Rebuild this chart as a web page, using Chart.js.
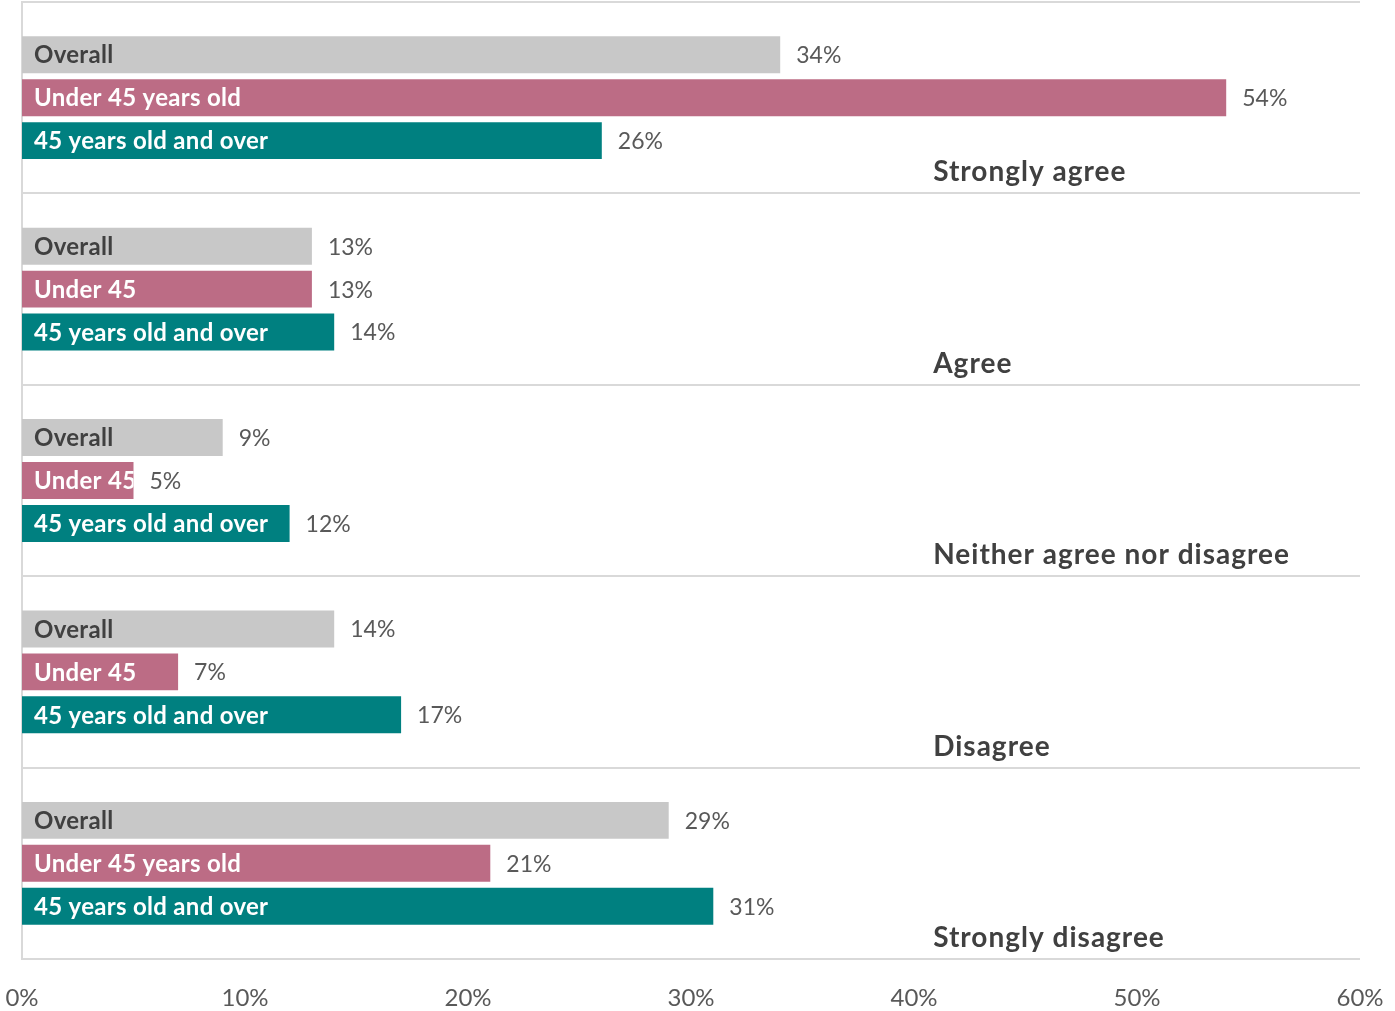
<!DOCTYPE html>
<html>
<head>
<meta charset="utf-8">
<script src="https://cdn.jsdelivr.net/npm/chart.js@4.4.1/dist/chart.umd.min.js"></script>
<style>
  html, body { margin: 0; padding: 0; background: #fff; }
  #wrap { width: 1395px; height: 1011px; }
</style>
</head>
<body>
<div id="wrap"><canvas id="agreeChart" width="1395" height="1011"></canvas></div>
<script>
// ===== DATA =====
const categories = ["Strongly agree", "Agree", "Neither agree nor disagree", "Disagree", "Strongly disagree"];
const overallValues = [34, 13, 9, 14, 29];
const under45Values = [54, 13, 5, 7, 21];
const over45Values = [26, 14, 12, 17, 31];
const under45Names = ["Under 45 years old", "Under 45", "Under 45", "Under 45", "Under 45 years old"];
const xTicks = [0, 10, 20, 30, 40, 50, 60];

const FONT = "Lato, 'Open Sans', sans-serif";
const DARK = "#404040";
const MUTED = "#595959";

const series = [
  { label: "Overall", data: overallValues, color: "#c8c8c8", text: DARK, names: categories.map(() => "Overall") },
  { label: "Under 45", data: under45Values, color: "#bc6c85", text: "#ffffff", names: under45Names },
  { label: "45 years old and over", data: over45Values, color: "#008080", text: "#ffffff", names: categories.map(() => "45 years old and over") },
];

// bar labels (inside + value) and group titles
const barLabels = {
  id: "barLabels",
  afterDatasetsDraw(chart) {
    const ctx = chart.ctx;
    const area = chart.chartArea;
    ctx.save();
    ctx.textBaseline = "middle";

    chart.data.datasets.forEach((ds, di) => {
      const meta = chart.getDatasetMeta(di);
      const s = series[di];
      meta.data.forEach((bar, i) => {
        const h = bar.height;
        // name inside the bar, clipped to it
        ctx.save();
        ctx.beginPath();
        ctx.rect(bar.base, bar.y - h / 2, bar.x - bar.base, h);
        ctx.clip();
        ctx.font = "bold 24px " + FONT;
        ctx.letterSpacing = "0.3px";
        ctx.fillStyle = s.text;
        ctx.textAlign = "left";
        ctx.fillText(s.names[i], bar.base + 12, bar.y + 1);
        ctx.restore();

        // value to the right
        ctx.font = "23px " + FONT;
        ctx.fillStyle = MUTED;
        ctx.textAlign = "left";
        ctx.fillText(ds.data[i] + "%", bar.x + 16, bar.y + 1);
      });
    });

    // category title near the bottom of each group
    const yScale = chart.scales.y;
    const groupH = (area.bottom - area.top) / categories.length;
    ctx.font = "bold 28px " + FONT;
    ctx.letterSpacing = "1px";
    ctx.fillStyle = DARK;
    ctx.textAlign = "left";
    categories.forEach((cat, i) => {
      const y = yScale.getPixelForValue(i) + groupH * 0.39;
      ctx.fillText(cat, area.left + (area.right - area.left) * 0.681, y);
    });
    ctx.restore();
  },
};

new Chart(document.getElementById("agreeChart"), {
  type: "bar",
  data: {
    labels: categories,
    datasets: series.map((s) => ({
      label: s.label,
      data: s.data,
      backgroundColor: s.color,
      borderWidth: 0,
      categoryPercentage: 0.673,
      barPercentage: 0.86,
    })),
  },
  options: {
    indexAxis: "y",
    responsive: false,
    animation: false,
    layout: {
      padding: { left: 22, right: 35, top: 2, bottom: 0 },
    },
    plugins: {
      legend: { display: false },
      tooltip: { enabled: false },
    },
    scales: {
      x: {
        min: 0,
        max: 60,
        afterBuildTicks: (scale) => {
          scale.ticks = xTicks.map((v) => ({ value: v }));
        },
        afterFit: (scale) => {
          scale.height = 52;
          scale.paddingLeft = 0;
          scale.paddingRight = 0;
        },
        grid: { display: false, drawTicks: false },
        border: { display: false },
        ticks: {
          padding: 25,
          color: MUTED,
          font: { family: FONT, size: 24 },
          callback: (v) => v + "%",
        },
      },
      y: {
        afterFit: (scale) => {
          scale.width = 0;
          scale.paddingTop = 0;
          scale.paddingBottom = 0;
        },
        grid: {
          offset: true,
          color: "#d9d9d9",
          lineWidth: 2,
          drawTicks: false,
        },
        border: { display: true, color: "#d9d9d9", width: 2 },
        ticks: { display: false },
      },
    },
  },
  plugins: [barLabels],
});
</script>
</body>
</html>
